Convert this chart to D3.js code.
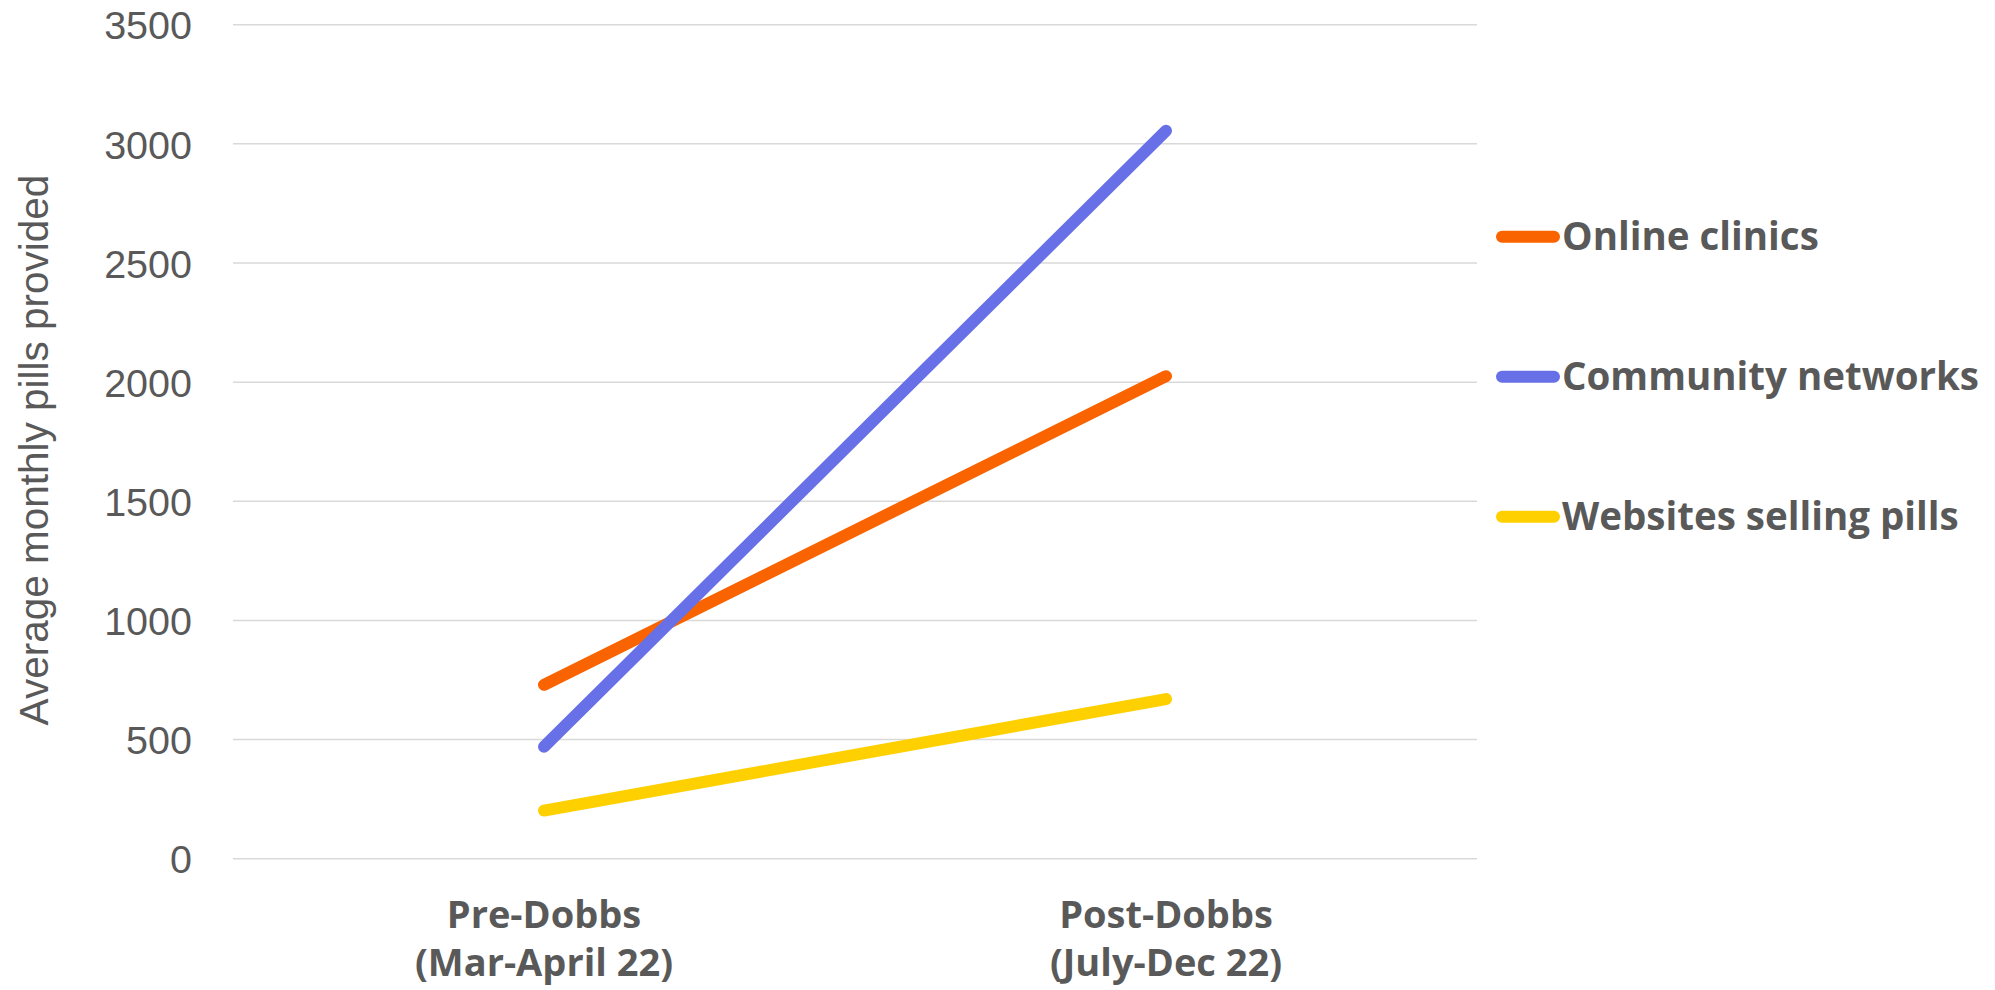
<!DOCTYPE html>
<html>
<head>
<meta charset="utf-8">
<script src="https://cdn.jsdelivr.net/npm/d3@7"></script>
<style>
  html, body { margin: 0; padding: 0; background: #fff; }
  svg { display: block; }
</style>
</head>
<body>
<svg id="chart" width="1995" height="990"></svg>
<script>
const categories = [["Pre-Dobbs", "(Mar-April 22)"], ["Post-Dobbs", "(July-Dec 22)"]];
const seriesNames = ["Online clinics", "Community networks", "Websites selling pills"];
const onlineClinics = [730, 2025];
const communityNetworks = [470, 3055];
const websitesSellingPills = [202, 670];
const yTicks = [0, 500, 1000, 1500, 2000, 2500, 3000, 3500];
const colors = ["#FA6400", "#6870E8", "#FFD000"];
const yTitle = "Average monthly pills provided";

const series = [onlineClinics, communityNetworks, websitesSellingPills];

const svg = d3.select("#chart");
const plotLeft = 233, plotRight = 1477, plotTop = 24.7, plotBottom = 858.7;

const x = d3.scalePoint().domain(d3.range(categories.length)).range([plotLeft, plotRight]).padding(0.5);
const y = d3.scaleLinear().domain([0, 3500]).range([plotBottom, plotTop]);

const textColor = "#595959";

// gridlines
svg.append("g").selectAll("line").data(yTicks).join("line")
  .attr("x1", plotLeft).attr("x2", plotRight)
  .attr("y1", d => y(d)).attr("y2", d => y(d))
  .attr("stroke", "#D9D9D9").attr("stroke-width", 1.5);

// y axis labels
const yAxis = d3.axisLeft(y).tickValues(yTicks).tickSize(0).tickPadding(0).tickFormat(d3.format("d"));
const yg = svg.append("g").attr("transform", `translate(192,0)`).call(yAxis);
yg.select(".domain").remove();
yg.selectAll("text")
  .attr("font-family", "Liberation Sans, Arial, sans-serif")
  .attr("font-size", 39.5)
  .attr("fill", textColor)
  .attr("dy", "0.36em");

// y title
svg.append("text")
  .attr("transform", `translate(48,450) rotate(-90)`)
  .attr("text-anchor", "middle")
  .attr("font-family", "Liberation Sans, Arial, sans-serif")
  .attr("font-size", 40.5)
  .attr("fill", textColor)
  .text(yTitle);

// x labels
const xg = svg.append("g");
categories.forEach((lines, i) => {
  const t = xg.append("text")
    .attr("x", x(i)).attr("y", 928)
    .attr("text-anchor", "middle")
    .attr("font-family", "Open Sans, sans-serif")
    .attr("font-weight", "bold")
    .attr("font-size", 38)
    .attr("fill", textColor);
  lines.forEach((ln, j) => {
    t.append("tspan").attr("x", x(i)).attr("dy", j === 0 ? 0 : 48).text(ln);
  });
});

// lines
const line = d3.line().x((d, i) => x(i)).y(d => y(d));
svg.append("g").selectAll("path").data(series).join("path")
  .attr("d", d => line(d))
  .attr("fill", "none")
  .attr("stroke", (d, i) => colors[i])
  .attr("stroke-width", 12)
  .attr("stroke-linecap", "round");

// legend
const lg = svg.append("g");
seriesNames.forEach((name, i) => {
  const ly = 236.7 + i * 140;
  lg.append("line")
    .attr("x1", 1502).attr("x2", 1554)
    .attr("y1", ly).attr("y2", ly)
    .attr("stroke", colors[i]).attr("stroke-width", 12).attr("stroke-linecap", "round");
  lg.append("text")
    .attr("x", 1562).attr("y", ly + 13)
    .attr("font-family", "Open Sans, sans-serif")
    .attr("font-weight", "bold")
    .attr("font-size", 38.5)
    .attr("fill", textColor)
    .text(name);
});
</script>
</body>
</html>
